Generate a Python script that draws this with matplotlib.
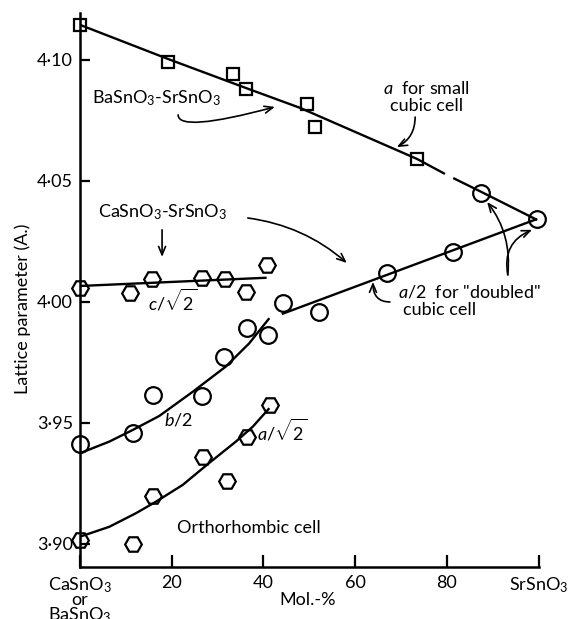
import matplotlib
matplotlib.use("Agg")
import matplotlib.pyplot as plt

plt.rcParams['font.family'] = ['Lato', 'DejaVu Sans']
plt.rcParams['mathtext.fontset'] = 'custom'
plt.rcParams['mathtext.rm'] = 'Lato'
plt.rcParams['mathtext.it'] = 'Lato:italic'
plt.rcParams['mathtext.bf'] = 'Lato:bold'

# ---- data ----
# BaSnO3-SrSnO3, a for small cubic cell (squares)
sq_x = [0, 19.2, 33.4, 36.2, 49.6, 51.3, 73.6]
sq_y = [4.1145, 4.0992, 4.0942, 4.0880, 4.0818, 4.0724, 4.0590]
# CaSnO3-SrSnO3, a/2 for "doubled" cubic cell (circles)
cub_x = [44.3, 52.2, 66.9, 81.3, 87.5, 99.6]
cub_y = [3.9995, 3.9960, 4.0121, 4.0208, 4.0449, 4.0343]
# orthorhombic c/sqrt2 (hexagons)
c_x = [0, 11.0, 15.6, 26.7, 31.6, 36.1, 40.7]
c_y = [4.0057, 4.0036, 4.0095, 4.0100, 4.0095, 4.0043, 4.0153]
# orthorhombic b/2 (circles)
b_x = [0, 11.5, 16.0, 26.7, 31.4, 36.4, 41.1]
b_y = [3.9412, 3.9460, 3.9616, 3.9613, 3.9774, 3.9893, 3.9864]
# orthorhombic a/sqrt2 (hexagons)
a_x = [0, 11.6, 15.9, 26.8, 32.0, 36.4, 41.4]
a_y = [3.9016, 3.9000, 3.9198, 3.9358, 3.9260, 3.9440, 3.9574]

# drawn curves
top1_x = [0, 19.2, 36.2, 48.0, 73.5, 79.6]
top1_y = [4.1145, 4.1004, 4.0884, 4.0802, 4.0591, 4.0529]
top2_x = [81.4, 87.5, 99.7]
top2_y = [4.0512, 4.0455, 4.0339]
cline_x = [0, 40.7]
cline_y = [4.0066, 4.0100]
bcurve_x = [0, 6.4, 11.5, 17.3, 24.6, 31.8, 36.9, 41.3]
bcurve_y = [3.9375, 3.9423, 3.9471, 3.9529, 3.9629, 3.9733, 3.9829, 3.9933]
acurve_x = [0, 6.4, 12.2, 16.6, 22.4, 28.2, 34.0, 37.7, 41.3]
acurve_y = [3.9030, 3.9071, 3.9127, 3.9175, 3.9244, 3.9335, 3.9423, 3.9485, 3.9561]
cubline_x = [44.0, 99.7]
cubline_y = [3.9950, 4.0343]

xticks = [0, 20, 40, 60, 80, 100]
xticklabels = ["CaSnO$_3$\nor\nBaSnO$_3$", "20", "40", "60", "80", "SrSnO$_3$"]
yticks = [3.90, 3.95, 4.00, 4.05, 4.10]
yticklabels = ["3·90", "3·95", "4·00", "4·05", "4·10"]

W, H = 572, 619
fig = plt.figure(figsize=(W / 100, H / 100), dpi=100)
ax = fig.add_axes([80 / W, 1 - 566.7 / H, (538.5 - 80) / W, (566.7 - 13) / H])
ax.set_xlim(0, 100)
ax.set_ylim(3.8906, 4.1194)
for s in ['top', 'right']:
    ax.spines[s].set_visible(False)
for s in ['left', 'bottom']:
    ax.spines[s].set_linewidth(1.8)

lw = 1.7
k = dict(color='black', lw=lw, solid_capstyle='butt')
ax.plot(top1_x, top1_y, **k)
ax.plot(top2_x, top2_y, **k)
ax.plot(cline_x, cline_y, **k)
ax.plot(bcurve_x, bcurve_y, **k)
ax.plot(acurve_x, acurve_y, **k)
ax.plot(cubline_x, cubline_y, **k)

mk = dict(ls='none', mfc='none', mec='black', mew=1.6, clip_on=False)
ax.plot(sq_x, sq_y, marker='s', ms=9, **mk)
ax.plot(cub_x, cub_y, marker='o', ms=12, **mk)
ax.plot(b_x, b_y, marker='o', ms=12, **mk)
ax.plot(c_x, c_y, marker='H', ms=12, **mk)
ax.plot(a_x, a_y, marker='H', ms=12, **mk)

tfs = 13
ax.set_xticks(xticks)
ax.set_xticklabels(xticklabels, fontsize=tfs, linespacing=0.8, va='top')
ax.set_yticks(yticks)
ax.set_yticklabels(yticklabels, fontsize=tfs)
ax.tick_params(axis='x', direction='in', length=9, width=1.6, pad=6)
ax.tick_params(axis='y', direction='in', length=7, width=1.6, pad=5)

fs = 13
arr = dict(arrowstyle='->,head_length=0.6,head_width=0.25', color='black', lw=1.2, shrinkA=0, shrinkB=0)

ax.text(75.5, 4.0847, "$a$  for small\ncubic cell", fontsize=fs, ha='center', va='center', linespacing=1.05)
ax.annotate("", xy=(69.1, 4.0640), xytext=(73.1, 4.0764),
            arrowprops=dict(connectionstyle='arc3,rad=-0.3', **arr))

ax.text(2.6, 4.0843, "BaSnO$_3$-SrSnO$_3$", fontsize=fs, ha='left', va='center')
ax.annotate("", xy=(42.5, 4.0806), xytext=(21.4, 4.0773),
            arrowprops=dict(connectionstyle='angle3,angleA=90,angleB=15', **arr))

ax.text(3.9, 4.0372, "CaSnO$_3$-SrSnO$_3$", fontsize=fs, ha='left', va='center')
ax.annotate("", xy=(17.9, 4.0186), xytext=(17.9, 4.0298),
            arrowprops=dict(connectionstyle='arc3', **arr))
ax.annotate("", xy=(58.2, 4.0161), xytext=(36.6, 4.0347),
            arrowprops=dict(connectionstyle='arc3,rad=-0.15', **arr))

ax.text(20.1, 4.0008, r"$c/\sqrt{2}$", fontsize=fs, ha='center', va='center')
ax.text(21.5, 3.9512, "$b$/2", fontsize=fs, ha='center', va='center')
ax.text(44.1, 3.9471, r"$a/\sqrt{2}$", fontsize=fs, ha='center', va='center')

ax.text(69.4, 4.0041, '$a$/2  for "doubled"', fontsize=fs, ha='left', va='center')
ax.text(70.4, 3.9967, 'cubic cell', fontsize=fs, ha='left', va='center')
ax.annotate("", xy=(63.9, 4.0083), xytext=(67.6, 4.0000),
            arrowprops=dict(connectionstyle='angle3,angleA=180,angleB=90', **arr))
ax.annotate("", xy=(88.8, 4.0413), xytext=(93.3, 4.0112),
            arrowprops=dict(connectionstyle='arc3,rad=0.2', **arr))
ax.annotate("", xy=(98.6, 4.0298), xytext=(93.3, 4.0112),
            arrowprops=dict(connectionstyle='arc3,rad=-0.4', **arr))

ax.text(36.9, 3.9066, "Orthorhombic cell", fontsize=fs, ha='center', va='center')

fig.text(308 / W, 1 - 600 / H, "Mol.-%", fontsize=fs, ha='center', va='center')
fig.text(23 / W, 1 - 309 / H, "Lattice parameter (A.)", fontsize=fs, ha='center', va='center', rotation=90)

fig.savefig("out.png", dpi=100)
